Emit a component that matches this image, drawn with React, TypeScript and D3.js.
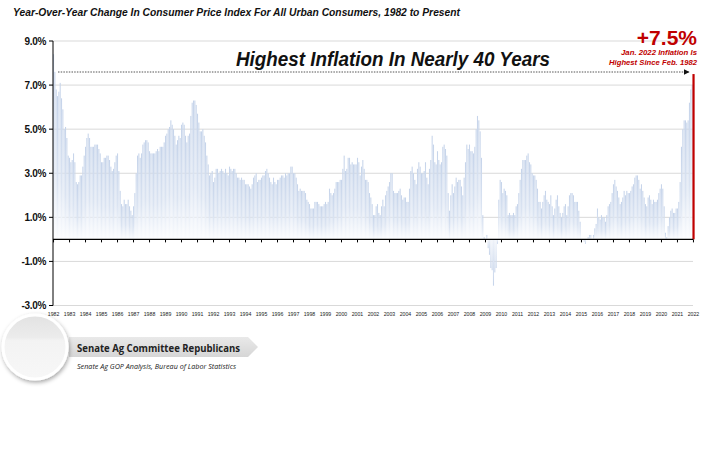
import React from "react";
import * as d3 from "d3";

// Year-over-year CPI-U change (%), monthly, Jan 1982 .. Jan 2022
const cpi1982to1991: number[] = [
  8.4, 7.6, 6.8, 6.5, 6.7, 7.1, 6.4, 5.9, 5.0, 5.1, 4.6, 3.8,
  3.7, 3.5, 3.6, 3.9, 3.5, 2.6, 2.5, 2.6, 2.9, 2.9, 3.3, 3.8,
  4.2, 4.6, 4.8, 4.6, 4.2, 4.2, 4.2, 4.3, 4.3, 4.3, 4.1, 3.9,
  3.5, 3.5, 3.7, 3.7, 3.8, 3.8, 3.6, 3.3, 3.1, 3.2, 3.5, 3.8,
  3.9, 3.1, 2.2, 1.6, 1.5, 1.8, 1.6, 1.6, 1.8, 1.5, 1.3, 1.1,
  1.5, 2.1, 3.0, 3.8, 3.9, 3.7, 3.9, 4.3, 4.4, 4.5, 4.5, 4.4,
  4.0, 3.9, 3.9, 3.9, 3.9, 4.0, 4.1, 4.0, 4.2, 4.2, 4.2, 4.4,
  4.7, 4.8, 5.0, 5.1, 5.4, 5.2, 5.0, 4.7, 4.3, 4.5, 4.7, 4.6,
  5.2, 5.3, 5.2, 4.7, 4.4, 4.7, 4.8, 5.6, 6.2, 6.3, 6.3, 6.1,
  5.7, 5.3, 4.9, 4.9, 5.0, 4.7, 4.4, 3.8, 3.4, 2.9, 3.0, 3.1,
];
const cpi1992to2001: number[] = [
  2.6, 2.8, 3.2, 3.2, 3.0, 3.1, 3.2, 3.1, 3.0, 3.2, 3.0, 2.9,
  3.3, 3.2, 3.1, 3.2, 3.2, 3.0, 2.8, 2.8, 2.7, 2.8, 2.7, 2.7,
  2.5, 2.5, 2.5, 2.4, 2.3, 2.5, 2.8, 2.9, 3.0, 2.6, 2.7, 2.7,
  2.8, 2.9, 2.9, 3.1, 3.2, 3.0, 2.8, 2.6, 2.5, 2.8, 2.6, 2.5,
  2.7, 2.7, 2.8, 2.9, 2.9, 2.8, 3.0, 2.9, 3.0, 3.0, 3.3, 3.3,
  3.0, 3.0, 2.8, 2.5, 2.2, 2.3, 2.2, 2.2, 2.2, 2.1, 1.8, 1.7,
  1.6, 1.4, 1.4, 1.4, 1.7, 1.7, 1.7, 1.6, 1.5, 1.5, 1.5, 1.6,
  1.7, 1.6, 1.7, 2.3, 2.1, 2.0, 2.1, 2.3, 2.6, 2.6, 2.6, 2.7,
  2.7, 3.2, 3.8, 3.1, 3.2, 3.7, 3.7, 3.4, 3.5, 3.4, 3.4, 3.4,
  3.7, 3.5, 2.9, 3.3, 3.6, 3.2, 2.7, 2.7, 2.6, 2.1, 1.9, 1.6,
];
const cpi2002to2011: number[] = [
  1.1, 1.1, 1.5, 1.6, 1.2, 1.1, 1.5, 1.8, 1.5, 2.0, 2.2, 2.4,
  2.6, 3.0, 3.0, 2.2, 2.1, 2.1, 2.1, 2.2, 2.3, 2.0, 1.8, 1.9,
  1.9, 1.7, 1.7, 2.3, 3.1, 3.3, 3.0, 2.7, 2.5, 3.2, 3.5, 3.3,
  3.0, 3.0, 3.1, 3.5, 2.8, 2.5, 3.2, 3.6, 4.7, 4.3, 3.5, 3.4,
  4.0, 3.6, 3.4, 3.5, 4.2, 4.3, 4.1, 3.8, 2.1, 1.3, 2.0, 2.5,
  2.1, 2.4, 2.8, 2.6, 2.7, 2.7, 2.4, 2.0, 2.8, 3.5, 4.3, 4.1,
  4.3, 4.0, 4.0, 3.9, 4.2, 5.0, 5.6, 5.4, 4.9, 3.7, 1.1, 0.1,
  0.0, 0.2, -0.4, -0.7, -1.3, -1.4, -2.1, -1.5, -1.3, -0.2, 1.8, 2.7,
  2.6, 2.1, 2.3, 2.2, 2.0, 1.1, 1.2, 1.1, 1.1, 1.2, 1.1, 1.5,
  1.6, 2.1, 2.7, 3.2, 3.6, 3.6, 3.6, 3.8, 3.9, 3.5, 3.4, 3.0,
];
const cpi2012to2022: number[] = [
  2.9, 2.9, 2.7, 2.3, 1.7, 1.7, 1.4, 1.7, 2.0, 2.2, 1.8, 1.7,
  1.6, 2.0, 1.5, 1.1, 1.4, 1.8, 2.0, 1.5, 1.2, 1.0, 1.2, 1.5,
  1.6, 1.1, 1.5, 2.0, 2.1, 2.1, 2.0, 1.7, 1.7, 1.7, 1.3, 0.8,
  -0.1, 0.0, -0.1, -0.2, 0.0, 0.1, 0.2, 0.2, 0.0, 0.2, 0.5, 0.7,
  1.4, 1.0, 0.9, 1.1, 1.0, 1.0, 0.8, 1.1, 1.5, 1.6, 1.7, 2.1,
  2.5, 2.7, 2.4, 2.2, 1.9, 1.6, 1.7, 1.9, 2.2, 2.0, 2.2, 2.1,
  2.1, 2.2, 2.4, 2.5, 2.8, 2.9, 2.9, 2.7, 2.3, 2.5, 2.2, 1.9,
  1.6, 1.5, 1.9, 2.0, 1.8, 1.6, 1.8, 1.7, 1.7, 1.8, 2.1, 2.3,
  2.5, 2.3, 1.5, 0.3, 0.1, 0.6, 1.0, 1.3, 1.4, 1.2, 1.2, 1.4,
  1.4, 1.7, 2.6, 4.2, 5.0, 5.4, 5.4, 5.3, 5.4, 6.2, 6.8, 7.0,
  7.5,
];

const yTicks: number[] = [9, 7, 5, 3, 1, -1, -3];
const yearLabels: string[] = [
  "1982", "1983", "1984", "1985", "1986", "1987", "1988", "1989", "1990", "1991",
  "1992", "1993", "1994", "1995", "1996", "1997", "1998", "1999", "2000", "2001",
  "2002", "2003", "2004", "2005", "2006", "2007", "2008", "2009", "2010", "2011",
  "2012", "2013", "2014", "2015", "2016", "2017", "2018", "2019", "2020", "2021",
  "2022",
];

const values = [...cpi1982to1991, ...cpi1992to2001, ...cpi2002to2011, ...cpi2012to2022];

const W = 719;
const H = 452;

export default function App() {
  const x = d3.scaleBand<number>().domain(d3.range(values.length)).range([53, 694]).paddingInner(0.2);
  const y = d3.scaleLinear().domain([-3, 9]).range([305.5, 41]);
  const y0 = y(0);
  const last = values.length - 1;
  const heavy = "'Liberation Sans', Arial, sans-serif";

  return (
    <svg width={W} height={H} style={{ position: "absolute", left: 0, top: 0 }} fontFamily={heavy}>
      <defs>
        <linearGradient id="barPos" x1="0" y1="0" x2="0" y2="1">
          <stop offset="0" stopColor="#c6d4ea" />
          <stop offset="0.6" stopColor="#dbe4f2" />
          <stop offset="1" stopColor="#fbfcfe" />
        </linearGradient>
        <linearGradient id="barNeg" x1="0" y1="1" x2="0" y2="0">
          <stop offset="0" stopColor="#c6d4ea" />
          <stop offset="1" stopColor="#eef2f9" />
        </linearGradient>
        <linearGradient id="banner" x1="0" y1="0" x2="0" y2="1">
          <stop offset="0" stopColor="#e9e9e9" />
          <stop offset="1" stopColor="#d6d6d6" />
        </linearGradient>
        <linearGradient id="circ" x1="0" y1="0" x2="0" y2="1">
          <stop offset="0" stopColor="#e2e2e2" />
          <stop offset="0.35" stopColor="#ececec" />
          <stop offset="0.4" stopColor="#f3f3f3" />
          <stop offset="1" stopColor="#f7f7f7" />
        </linearGradient>
        <filter id="shadow" x="-30%" y="-30%" width="160%" height="160%">
          <feDropShadow dx="1" dy="2" stdDeviation="2" floodColor="#000" floodOpacity="0.35" />
        </filter>
        <marker id="arrow" viewBox="0 0 10 10" refX="9" refY="5" markerWidth="6" markerHeight="6" orient="auto">
          <path d="M0,0 L10,5 L0,10 z" fill="#111" />
        </marker>
      </defs>

      <rect x={0} y={0} width={W} height={H} fill="#fff" />

      {/* subtitle */}
      <text x={13} y={16} fontSize={10.5} fontWeight={900} fontStyle="italic" fill="#111"
        textLength={447} lengthAdjust="spacingAndGlyphs">
        Year-Over-Year Change In Consumer Price Index For All Urban Consumers, 1982 to Present
      </text>

      {/* gridlines */}
      {yTicks.map((t) => (
        <line key={"g" + t} x1={53} x2={693} y1={y(t)} y2={y(t)} stroke="#d9d9d9" strokeWidth={1} />
      ))}

      {/* bars */}
      {values.map((v, i) => {
        const isLast = i === last;
        const top = v >= 0 ? y(v) : y0;
        const h = Math.abs(y(v) - y0);
        return (
          <rect key={i}
            x={isLast ? (x(i) as number) - 0.5 : (x(i) as number)}
            y={top}
            width={isLast ? 2.2 : x.bandwidth()}
            height={Math.max(h, 0.3)}
            fill={isLast ? "#c00000" : v >= 0 ? "url(#barPos)" : "url(#barNeg)"} />
        );
      })}

      {/* zero line and ticks */}
      <line x1={53} x2={693} y1={y0} y2={y0} stroke="#000" strokeWidth={1.2} />
      {yearLabels.map((lab, k) => {
        const xi = (x(k * 12) as number) + x.bandwidth() / 2;
        return (
          <g key={lab}>
            <line x1={xi} x2={xi} y1={y0} y2={y0 + 3} stroke="#000" strokeWidth={1} />
            <text x={xi} y={316} fontSize={5.2} textAnchor="middle" fill="#222">{lab}</text>
          </g>
        );
      })}

      {/* y axis */}
      <line x1={53} x2={53} y1={y(9)} y2={y(-3)} stroke="#000" strokeWidth={1} />
      {yTicks.map((t) => (
        <g key={"t" + t}>
          <line x1={49} x2={53} y1={y(t)} y2={y(t)} stroke="#000" strokeWidth={1} />
          <text x={46} y={y(t) + 3.5} fontSize={10} fontWeight={700} textAnchor="end" fill="#111"
            letterSpacing={-0.3}>
            {t.toFixed(1) + "%"}
          </text>
        </g>
      ))}

      {/* headline annotation */}
      <text x={393} y={66} fontSize={19.5} fontWeight={900} fontStyle="italic" textAnchor="middle" fill="#111"
        textLength={314} lengthAdjust="spacingAndGlyphs">
        Highest Inflation In Nearly 40 Years
      </text>
      <line x1={58} x2={689} y1={72} y2={72} stroke="#555" strokeWidth={1} strokeDasharray="1.5,1.2"
        markerEnd="url(#arrow)" />

      {/* red callout */}
      <text x={697} y={45} fontSize={21} fontWeight={700} textAnchor="end" fill="#c00000">+7.5%</text>
      <text x={697} y={54.5} fontSize={7.6} fontWeight={900} fontStyle="italic" textAnchor="end" fill="#c00000"
        textLength={76} lengthAdjust="spacingAndGlyphs">Jan. 2022 Inflation Is</text>
      <text x={697} y={65} fontSize={7.6} fontWeight={900} fontStyle="italic" textAnchor="end" fill="#c00000"
        textLength={88} lengthAdjust="spacingAndGlyphs">Highest Since Feb. 1982</text>

      {/* footer logo */}
      <path d="M69,337 L248,337 L258,347 L248,357 L69,357 Z" fill="url(#banner)" />
      <circle cx={35} cy={347} r={32} fill="url(#circ)" stroke="#fff" strokeWidth={3} filter="url(#shadow)" />
      <text x={77} y={352} fontSize={10} fontWeight={700} fill="#222" fontFamily="'Open Sans', sans-serif"
        textLength={163} lengthAdjust="spacingAndGlyphs">Senate Ag Committee Republicans</text>
      <text x={77} y={369} fontSize={6.8} fontStyle="italic" fill="#222" fontFamily="'Open Sans', sans-serif"
        textLength={159} lengthAdjust="spacingAndGlyphs">Senate Ag GOP Analysis, Bureau of Labor Statistics</text>
    </svg>
  );
}
